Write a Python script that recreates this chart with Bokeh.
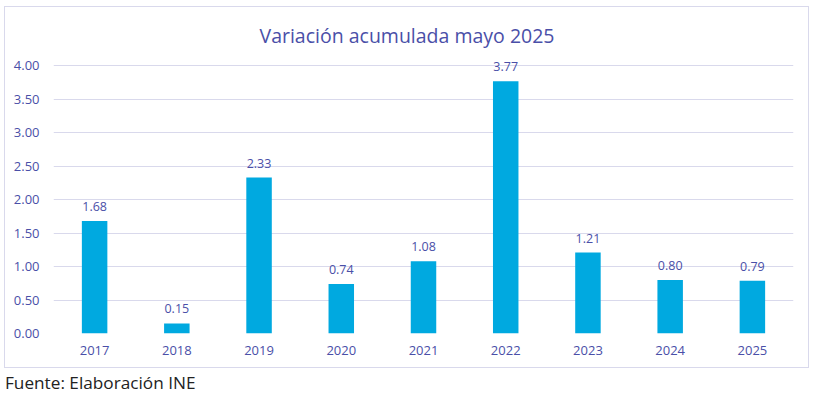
from bokeh.plotting import figure
from bokeh.models import ColumnDataSource, Div, FixedTicker, Label, CustomJSTickFormatter
from bokeh.layouts import column
from bokeh.embed import file_html
from bokeh.resources import INLINE

years = ["2017", "2018", "2019", "2020", "2021", "2022", "2023", "2024", "2025"]
values = [1.68, 0.15, 2.33, 0.74, 1.08, 3.77, 1.21, 0.80, 0.79]
labels = [f"{v:.2f}" for v in values]
y_ticks = [0.0, 0.5, 1.0, 1.5, 2.0, 2.5, 3.0, 3.5, 4.0]
title_text = "Variación acumulada mayo 2025"

TXT = "#4a4fa8"
GRID = "#d9d9ec"
BAR = "#00a9e0"
FONT = "Open Sans"

H = 362
TOP = 5
BOTTOM = 36
frame_h = H - 2 - TOP - BOTTOM
y_end = 4.0 * frame_h / 266.0   # 4.00 gridline sits 266px above the baseline

src = ColumnDataSource(dict(x=years, y=values, lab=labels))

p = figure(x_range=years, y_range=(0, y_end), width=805, height=H,
           output_backend="svg", toolbar_location=None,
           min_border_left=48, min_border_right=17, min_border_top=TOP, min_border_bottom=BOTTOM,
           outline_line_color=None, background_fill_color="white", border_fill_color="white",
           styles={"border": f"1px solid {GRID}", "box-sizing": "border-box"})

title = Label(x=206, y=frame_h - 21, x_units="screen", y_units="screen", text=title_text,
              text_align="left", text_baseline="middle",
              text_font=FONT, text_font_size="19.5px", text_color=TXT)
p.add_layout(title)

p.vbar(x="x", top="y", width=0.31, source=src, color=BAR, line_color=None)
p.text(x="x", y="y", text="lab", source=src, text_align="center", text_baseline="bottom",
       y_offset=-10, text_font_size="12.5px", text_color=TXT,
       text_font={"value": FONT})

p.xgrid.grid_line_color = None
p.ygrid.grid_line_color = GRID
p.ygrid.ticker = FixedTicker(ticks=y_ticks)

p.yaxis.ticker = FixedTicker(ticks=y_ticks)
p.yaxis.formatter = CustomJSTickFormatter(code="return tick.toFixed(2);")
for ax in (p.xaxis, p.yaxis):
    ax.axis_line_color = None
    ax.major_tick_line_color = None
    ax.minor_tick_line_color = None
    ax.major_tick_out = 0
    ax.major_tick_in = 0
    ax.minor_tick_out = 0
    ax.major_label_text_color = TXT
    ax.major_label_text_font = FONT
    ax.major_label_text_font_size = "13px"
p.yaxis.major_label_standoff = 14
p.xaxis.major_label_standoff = 12

footer = Div(text="Fuente: Elaboración INE",
             styles={"font-family": "Open Sans", "font-size": "17.2px", "color": "#222222",
                     "margin": "0", "padding-top": "3px", "padding-left": "1px"})

layout = column(p, footer, spacing=0, margin=(6, 0, 0, 4))
open("out.html", "w").write(file_html(layout, INLINE))
